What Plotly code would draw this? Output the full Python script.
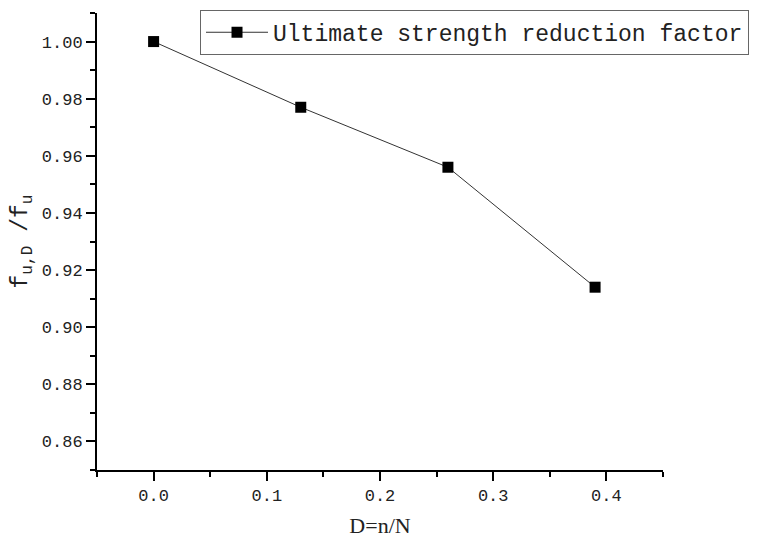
import plotly.graph_objects as go

x_vals = [0.0, 0.13, 0.26, 0.39]
y_vals = [1.000, 0.977, 0.956, 0.914]
series_name = "Ultimate strength reduction factor"
x_title = "D=n/N"
y_title = "f<sub>u,D</sub> /f<sub>u</sub>"

mono = "Liberation Mono, DejaVu Sans Mono, monospace"
serif = "Liberation Serif, serif"

fig = go.Figure()
fig.add_trace(go.Scatter(
    x=x_vals, y=y_vals, mode="lines+markers", name=series_name,
    line=dict(color="#333333", width=1),
    marker=dict(symbol="square", size=11, color="black"),
))

# page body has an 8px margin, so the figure is 8px smaller and margins are shifted
fig.update_layout(
    width=751, height=532,
    margin=dict(l=89, r=96, t=5, b=70, autoexpand=False),
    paper_bgcolor="white", plot_bgcolor="white",
    showlegend=True,
    legend=dict(
        x=0.182, y=1.007, xanchor="left", yanchor="top",
        bordercolor="#666666", borderwidth=1, bgcolor="white",
        font=dict(family=mono, size=23, color="#222222"),
        itemwidth=62,
    ),
    font=dict(family=mono, size=17, color="#222222"),
)
fig.update_xaxes(
    range=[-0.05, 0.45], tickmode="linear", tick0=0, dtick=0.1, tickformat=".1f",
    showline=True, linecolor="black", linewidth=2, mirror=False,
    ticks="outside", ticklen=9, tickwidth=2, tickcolor="black",
    minor=dict(dtick=0.05, tick0=-0.05, ticks="outside", ticklen=5, tickwidth=2, tickcolor="black"),
    showgrid=False, zeroline=False, automargin=False,
    title=dict(text=x_title, font=dict(family=serif, size=22), standoff=12),
    tickfont=dict(family=mono, size=17),
)
fig.update_yaxes(
    range=[0.85, 1.01], tickmode="linear", tick0=0.86, dtick=0.02, tickformat=".2f",
    showline=True, linecolor="black", linewidth=2, mirror=False,
    ticks="outside", ticklen=9, tickwidth=2, tickcolor="black",
    minor=dict(dtick=0.01, tick0=0.85, ticks="outside", ticklen=5, tickwidth=2, tickcolor="black"),
    showgrid=False, zeroline=False, automargin=False,
    title=dict(text=y_title, font=dict(family=mono, size=23), standoff=10),
    tickfont=dict(family=mono, size=17),
)

fig.write_html("out.html")
